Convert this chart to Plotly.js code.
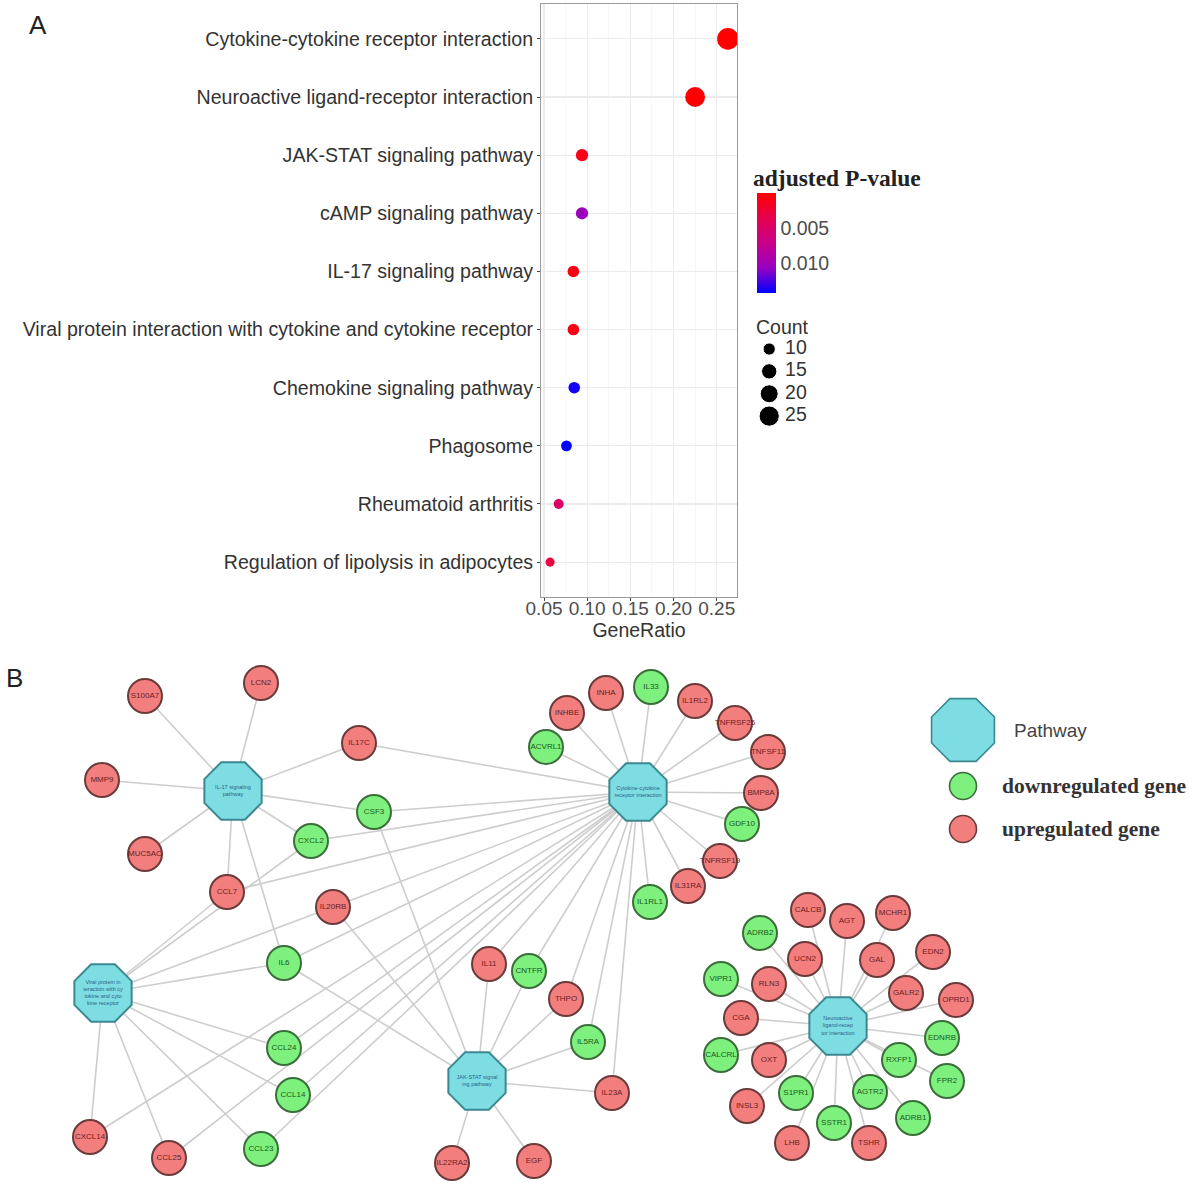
<!DOCTYPE html>
<html>
<head>
<meta charset="utf-8">
<script src="https://cdn.plot.ly/plotly-3.0.1.min.js"></script>
<style>html,body{margin:0;padding:0;background:#fff;}#chart{width:1193px;height:1185px;}</style>
</head>
<body>
<div id="chart"></div>
<script>
// ---------------- Panel A data ----------------
const categories = [
  "Cytokine-cytokine receptor interaction",
  "Neuroactive ligand-receptor interaction",
  "JAK-STAT signaling pathway",
  "cAMP signaling pathway",
  "IL-17 signaling pathway",
  "Viral protein interaction with cytokine and cytokine receptor",
  "Chemokine signaling pathway",
  "Phagosome",
  "Rheumatoid arthritis",
  "Regulation of lipolysis in adipocytes"
];
const geneRatio = [0.263, 0.225, 0.094, 0.094, 0.084, 0.084, 0.085, 0.076, 0.067, 0.057];
const geneCount = [28, 24, 10, 10, 9, 9, 9, 8, 7, 6];
const pAdjust = [0.000012, 0.0001, 0.0011, 0.0105, 0.0008, 0.0009, 0.0138, 0.0143, 0.005, 0.0029];
const xTicks = [0.05, 0.10, 0.15, 0.20, 0.25];
const pTicks = [0.005, 0.010];
const countLegend = [10, 15, 20, 25];

// ---------------- Panel B data ----------------
const pathwayIds = ["IL17", "CYTO", "VIRAL", "JAK", "NEURO"];
const pathwayLabels = [
  "IL-17 signaling<br>pathway",
  "Cytokine-cytokine<br>receptor interaction",
  "Viral protein in<br>teraction with cy<br>tokine and cyto<br>kine receptor",
  "JAK-STAT signal<br>ing pathway",
  "Neuroactive<br>ligand-recep<br>tor interaction"
];
const pathwayX = [233, 638, 103, 477, 838];
const pathwayY = [791, 792, 993, 1081, 1026];

const geneNames = [
  "S100A7","LCN2","MMP9","MUC5AC","IL17C","CSF3","CXCL2","CCL7",
  "ACVRL1","INHBE","INHA","IL33","IL1RL2","TNFRSF25","TNFSF11","BMP8A","GDF10","TNFRSF19","IL31RA","IL1RL1",
  "IL20RB","IL6","IL11","CNTFR","THPO","IL5RA","IL23A","IL22RA2","EGF",
  "CCL24","CCL14","CCL23","CCL25","CXCL14",
  "CALCB","AGT","MCHR1","ADRB2","UCN2","GAL","EDN2","VIPR1","RLN3","GALR2","OPRD1","CGA",
  "EDNRB","CALCRL","OXT","RXFP1","FPR2","INSL3","S1PR1","AGTR2","ADRB1","SSTR1","LHB","TSHR"
];
const geneX = [
  145,261,102,145,359,374,311,227,
  546,567,606,651,695,735,768,761,742,720,688,650,
  333,284,489,529,566,588,612,452,534,
  284,293,261,169,90,
  808,847,893,760,805,877,933,721,769,906,956,741,
  942,721,769,899,947,747,796,870,913,834,792,869
];
const geneY = [
  696,683,780,854,743,812,841,892,
  747,713,693,687,701,723,752,793,824,861,886,902,
  907,963,964,971,999,1042,1093,1163,1161,
  1048,1095,1149,1158,1137,
  910,921,913,933,959,960,952,979,984,993,1000,1018,
  1038,1055,1060,1060,1081,1106,1093,1092,1118,1123,1143,1143
];
const geneRegulation = [
  "up","up","up","up","up","down","down","up",
  "down","up","up","down","up","up","up","up","down","up","up","down",
  "up","down","up","down","up","down","up","up","up",
  "down","down","down","up","up",
  "up","up","up","down","up","up","up","down","up","up","up","up",
  "down","down","up","down","down","up","down","down","down","down","up","up"
];
const pathwayGenes = {
  IL17: ["S100A7","LCN2","MMP9","MUC5AC","IL17C","CSF3","CXCL2","CCL7","IL6"],
  CYTO: ["ACVRL1","INHBE","INHA","IL33","IL1RL2","TNFRSF25","TNFSF11","BMP8A","GDF10","TNFRSF19","IL31RA","IL1RL1",
         "IL17C","CSF3","CXCL2","CCL7","IL20RB","IL6","IL11","CNTFR","THPO","IL5RA","IL23A",
         "CCL24","CCL14","CCL23","CCL25","CXCL14"],
  VIRAL: ["CCL7","CXCL2","IL20RB","IL6","CCL24","CCL14","CCL23","CCL25","CXCL14"],
  JAK: ["CSF3","IL6","IL20RB","IL11","CNTFR","THPO","IL5RA","IL23A","IL22RA2","EGF"],
  NEURO: ["CALCB","AGT","MCHR1","ADRB2","UCN2","GAL","EDN2","VIPR1","RLN3","GALR2","OPRD1","CGA",
          "EDNRB","CALCRL","OXT","RXFP1","FPR2","INSL3","S1PR1","AGTR2","ADRB1","SSTR1","LHB","TSHR"]
};
const legendBLabels = ["Pathway", "downregulated gene", "upregulated gene"];

// ---------------- styles ----------------
const W = 1193, H = 1185;
const SANS = "Liberation Sans, Arial, Helvetica, sans-serif";
const SERIF = "Liberation Serif, Times New Roman, serif";
const RED_FILL = "#F27E7E", RED_LINE = "#6B3B3B", RED_TXT = "#6a1f1f";
const GRN_FILL = "#7EF07E", GRN_LINE = "#3B6E3B", GRN_TXT = "#1c5a1c";
const CY_FILL = "#7EDDE3", CY_LINE = "#3C8890", CY_TXT = "#2a5f86";
const dotSize = c => 4.35 * Math.sqrt(c) - 1.5;
const px = v => v / W, py = v => 1 - v / H;

const pScale = [[0, "#0000FF"], [0.25, "#9900C2"], [0.5, "#C80088"], [0.75, "#E7004F"], [1, "#FF0000"]];
const pMax = 0.0143, pMin = 0.000012;

const traces = [];

// Panel A dots
traces.push({
  type: "scatter", mode: "markers", xaxis: "x", yaxis: "y",
  x: geneRatio, y: categories,
  marker: {
    size: geneCount.map(dotSize), opacity: 1,
    color: pAdjust.map(p => -p),
    colorscale: pScale, cmin: -pMax, cmax: -pMin,
    line: {width: 0},
    colorbar: {
      x: px(757), xanchor: "left", xref: "paper",
      y: py(193), yanchor: "top", yref: "paper",
      len: 100 / H, lenmode: "fraction",
      thickness: 19, thicknessmode: "pixels",
      outlinewidth: 0, xpad: 0, ypad: 0,
      tickvals: pTicks.map(p => -p),
      ticktext: pTicks.map(p => p.toFixed(3)),
      ticks: "", ticklabelposition: "outside",
      tickfont: {family: SANS, size: 19.5, color: "#4d4d4d"},
      title: {text: ""}
    }
  },
  hoverinfo: "skip", showlegend: false
});

// Count legend
traces.push({
  type: "scatter", mode: "markers", xaxis: "x3", yaxis: "y3", cliponaxis: false,
  x: countLegend.map(() => 0.3), y: countLegend,
  marker: {size: countLegend.map(dotSize), color: "#000", opacity: 1},
  hoverinfo: "skip", showlegend: false
});
traces.push({
  type: "scatter", mode: "text", xaxis: "x3", yaxis: "y3", cliponaxis: false,
  x: countLegend.map(() => 0.66), y: countLegend,
  text: countLegend.map(String), textposition: "middle right",
  textfont: {family: SANS, size: 19.5, color: "#333"},
  hoverinfo: "skip", showlegend: false
});

// Panel B edges
const pos = {};
pathwayIds.forEach((id, i) => pos[id] = [pathwayX[i], pathwayY[i]]);
geneNames.forEach((g, i) => pos[g] = [geneX[i], geneY[i]]);
const ex = [], ey = [];
pathwayIds.forEach(id => {
  pathwayGenes[id].forEach(g => {
    ex.push(pos[id][0], pos[g][0], null);
    ey.push(pos[id][1], pos[g][1], null);
  });
});
traces.push({
  type: "scatter", mode: "lines", xaxis: "x2", yaxis: "y2", cliponaxis: false,
  x: ex, y: ey, line: {color: "#cdcdcd", width: 1.6},
  hoverinfo: "skip", showlegend: false
});

// Gene nodes
function geneTrace(reg, fill, line, txt) {
  const idx = geneNames.map((g, i) => i).filter(i => geneRegulation[i] === reg);
  return {
    type: "scatter", mode: "markers+text", xaxis: "x2", yaxis: "y2", cliponaxis: false,
    x: idx.map(i => geneX[i]), y: idx.map(i => geneY[i]),
    text: idx.map(i => geneNames[i]), textposition: "middle center",
    textfont: {family: SANS, size: 8, color: txt},
    marker: {symbol: "circle", size: 34, color: fill, opacity: 1, line: {color: line, width: 2}},
    hoverinfo: "skip", showlegend: false
  };
}
traces.push(geneTrace("up", RED_FILL, RED_LINE, RED_TXT));
traces.push(geneTrace("down", GRN_FILL, GRN_LINE, GRN_TXT));

// Pathway nodes
traces.push({
  type: "scatter", mode: "markers+text", xaxis: "x2", yaxis: "y2", cliponaxis: false,
  x: pathwayX, y: pathwayY, text: pathwayLabels, textposition: "middle center",
  textfont: {family: SANS, size: 5.5, color: CY_TXT},
  marker: {symbol: "octagon", size: 62, color: CY_FILL, opacity: 1, line: {color: CY_LINE, width: 2}},
  hoverinfo: "skip", showlegend: false
});

// Panel B legend
const legX = 963, legY0 = 730;
const legYs = [legY0, legY0 + 56, legY0 + 99];
traces.push({
  type: "scatter", mode: "markers", xaxis: "x2", yaxis: "y2", cliponaxis: false,
  x: legYs.map(() => legX), y: legYs,
  marker: {
    symbol: ["octagon", "circle", "circle"], size: [68, 27, 27], opacity: 1,
    color: [CY_FILL, GRN_FILL, RED_FILL],
    line: {color: [CY_LINE, GRN_LINE, RED_LINE], width: 1.6}
  },
  hoverinfo: "skip", showlegend: false
});

function ann(text, x, y, font, xanchor) {
  return {text: text, x: px(x), y: py(y), xref: "paper", yref: "paper",
          xanchor: xanchor || "left", yanchor: "middle", showarrow: false, font: font};
}
const annotations = [
  ann("A", 38, 25, {family: SANS, size: 26, color: "#222"}, "center"),
  ann("B", 15, 678, {family: SANS, size: 26, color: "#222"}, "center"),
  ann("<b>adjusted P-value</b>", 751, 178, {family: SERIF, size: 23.5, color: "#222"}),
  ann("Count", 754, 327, {family: SANS, size: 19.5, color: "#333"}),
  ann(legendBLabels[0], 1012, legYs[0], {family: SANS, size: 19, color: "#444"}),
  ann("<b>" + legendBLabels[1] + "</b>", 1000, legYs[1], {family: SERIF, size: 21.5, color: "#333"}),
  ann("<b>" + legendBLabels[2] + "</b>", 1000, legYs[2], {family: SERIF, size: 21.5, color: "#333"})
];

const layout = {
  width: W, height: H,
  margin: {l: 0, r: 0, t: 0, b: 0},
  paper_bgcolor: "#fff", plot_bgcolor: "rgba(0,0,0,0)",
  showlegend: false,
  font: {family: SANS},
  xaxis: {
    domain: [px(541), px(737)], anchor: "y",
    range: [0.0465, 0.2735],
    tickvals: xTicks, ticktext: xTicks.map(v => v.toFixed(2)),
    ticks: "outside", ticklen: 3, tickcolor: "#444", tickwidth: 1,
    ticklabelstandoff: -9,
    tickfont: {family: SANS, size: 19, color: "#4d4d4d"},
    showgrid: true, gridcolor: "#ebebeb", gridwidth: 1.1,
    minor: {tickvals: [0.075, 0.125, 0.175, 0.225], showgrid: true, gridcolor: "#f5f5f5", gridwidth: 0.7, ticks: ""},
    zeroline: false, showline: true, mirror: true, linecolor: "#9a9a9a", linewidth: 1,
    title: {text: "GeneRatio", font: {family: SANS, size: 19.5, color: "#333"}, standoff: 4},
    fixedrange: true
  },
  yaxis: {
    domain: [py(597), py(4)], anchor: "x",
    type: "category", categoryorder: "array", categoryarray: categories,
    range: [9.6, -0.6],
    ticks: "outside", ticklen: 3, tickcolor: "#444", tickwidth: 1,
    tickfont: {family: SANS, size: 19.6, color: "#333"},
    showgrid: true, gridcolor: "#ebebeb", gridwidth: 1.1,
    zeroline: false, showline: true, mirror: true, linecolor: "#9a9a9a", linewidth: 1,
    fixedrange: true
  },
  xaxis2: {domain: [0, 1], anchor: "y2", range: [0, W], visible: false, fixedrange: true},
  yaxis2: {domain: [0, 1], anchor: "x2", range: [H, 0], visible: false, fixedrange: true},
  xaxis3: {domain: [px(756), px(800)], anchor: "y3", range: [0, 1], visible: false, fixedrange: true},
  yaxis3: {domain: [py(429.5), py(335.6)], anchor: "x3", range: [28, 7], visible: false, fixedrange: true},
  annotations: annotations
};

Plotly.newPlot("chart", traces, layout, {staticPlot: true, displayModeBar: false});
</script>
</body>
</html>
